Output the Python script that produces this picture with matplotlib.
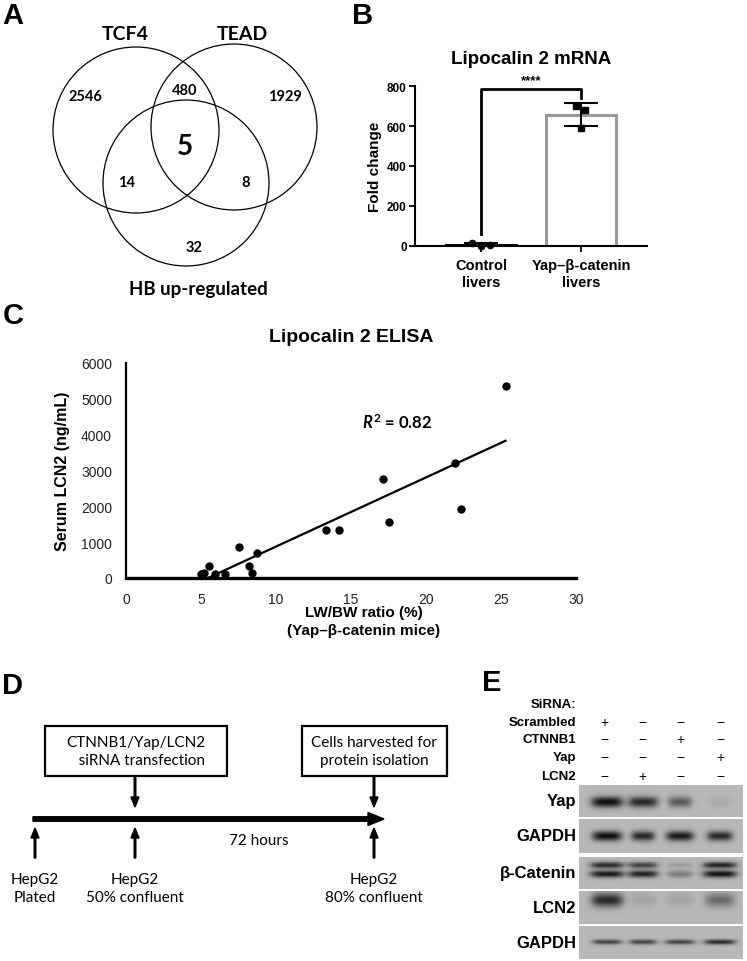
import numpy as np
import matplotlib
matplotlib.use('Agg')
import matplotlib.pyplot as plt
from matplotlib.patches import Circle, Rectangle

# ---- data ----
# A: Venn counts
venn_sets = ['TCF4', 'TEAD', 'HB up-regulated']
venn_counts = [2546, 480, 1929, 5, 14, 8, 32]  # TCF4 only, TCF4&TEAD, TEAD only, all, TCF4&HB, TEAD&HB, HB only

# B: Lipocalin 2 mRNA fold change
b_groups = ['Control\nlivers', 'Yap–β-catenin\nlivers']
control_fc = [14, 1, 2]
yap_fc = [703, 681, 591]

# C: Lipocalin 2 ELISA
lw_bw = [5.0, 5.2, 5.55, 5.9, 6.6, 7.5, 8.2, 8.4, 8.7, 13.3, 14.2, 17.1, 17.5, 21.9, 22.3, 25.3]
serum_lcn2 = [110, 150, 340, 110, 110, 860, 340, 130, 700, 1350, 1350, 2750, 1550, 3200, 1920, 5370]

# E: western blot
sirna = ['Scrambled', 'CTNNB1', 'Yap', 'LCN2']
sign_scrambled = ['+', '−', '−', '−']
sign_ctnnb1 = ['−', '−', '+', '−']
sign_yap = ['−', '−', '−', '+']
sign_lcn2 = ['−', '+', '−', '−']
blot_rows = ['Yap', 'GAPDH', 'β-Catenin', 'LCN2', 'GAPDH']
yap_band = [1.0, 0.85, 0.55, 0.08]
gapdh1_band = [1.0, 0.85, 0.95, 0.85]
bcat_upper = [0.85, 0.7, 0.15, 0.9]
bcat_lower = [0.95, 0.9, 0.35, 1.0]
lcn2_band = [0.85, 0.12, 0.12, 0.45]
gapdh2_band = [0.7, 0.7, 0.7, 0.85]

ARIAL = ['Liberation Sans', 'DejaVu Sans']
CALIBRI = ['Lato', 'DejaVu Sans']

plt.rcParams['mathtext.fontset'] = 'custom'
plt.rcParams['mathtext.it'] = 'Lato:italic:bold'
plt.rcParams['mathtext.rm'] = 'Lato:bold'
plt.rcParams['mathtext.bf'] = 'Lato:bold'

W, H = 747, 962
fig = plt.figure(figsize=(W / 100, H / 100), dpi=100)


def px_axes(left, top, right, bottom):
    return fig.add_axes([left / W, 1 - bottom / H, (right - left) / W, (bottom - top) / H])


ov = fig.add_axes([0, 0, 1, 1])
ov.axis('off')

# panel letters
for letter, (lx, ly) in zip('ABCDE', [(13, 16), (363, 16), (13, 316), (13, 686), (492, 683)]):
    ov.text(lx, ly, letter, fontsize=21, fontweight='bold', family=ARIAL, ha='center', va='center')

# ---- A: Venn ----
for cx, cy in [(136, 131), (234, 128), (186, 184)]:
    ov.add_patch(Circle((cx, cy), 83, fill=False, lw=0.9, ec='black'))
ov.text(125, 35, venn_sets[0], fontsize=14, fontweight='bold', family=CALIBRI, ha='center', va='center')
ov.text(242, 35, venn_sets[1], fontsize=14, fontweight='bold', family=CALIBRI, ha='center', va='center')
ov.text(198, 290, venn_sets[2], fontsize=13.5, fontweight='bold', family=CALIBRI, ha='center', va='center')
venn_pos = [(85, 97), (185, 91), (285, 97), (185, 147), (127, 183), (246, 183), (194, 248)]
for n, (tx, ty) in zip(venn_counts, venn_pos):
    ov.text(tx, ty, str(n), fontsize=20 if n == 5 else 10.5, fontweight='bold', family=CALIBRI,
            ha='center', va='center')

# ---- B: bar chart ----
axb = px_axes(415, 87.3, 647, 246.7)
axb.patch.set_visible(False)
xb = np.arange(len(b_groups))
means = [np.mean(control_fc), np.mean(yap_fc)]
sds = [np.std(control_fc, ddof=1), np.std(yap_fc, ddof=1)]
axb.bar(xb, means, width=0.7, color='white', edgecolor=['black', '#9a9a9a'], linewidth=2.2, zorder=2)
axb.errorbar(xb, means, yerr=sds, fmt='none', ecolor='black', elinewidth=1.5, capsize=12, capthick=1.5, zorder=3)
axb.plot(xb[0] + np.array([-0.093, 0, 0.09]), control_fc, 'o', color='black', ms=4.5, clip_on=False, zorder=4)
axb.plot(xb[1] + np.array([-0.05, 0.043, 0]), yap_fc, 's', color='black', ms=4.5, clip_on=False, zorder=4)
axb.plot([0, 0, 1, 1], [60, 786, 786, 740], color='black', lw=2, clip_on=False)
axb.text(0.5, 800, '****', ha='center', va='bottom', fontsize=9.5, fontweight='bold', family=ARIAL)
axb.set_xlim(-0.66, 1.66)
axb.set_ylim(0, 800)
axb.set_yticks([0, 200, 400, 600, 800])
axb.set_xticks(xb)
axb.set_xticklabels(b_groups, fontsize=10.5, fontweight='bold', family=ARIAL, linespacing=1.25)
for lab in axb.get_yticklabels():
    lab.set_fontsize(8.5)
    lab.set_fontweight('bold')
    lab.set_family(ARIAL)
axb.tick_params(axis='y', length=4.5, width=1.3, pad=1.5)
axb.tick_params(axis='x', length=4, width=1.3, pad=5)
for s in ['top', 'right']:
    axb.spines[s].set_visible(False)
for s in ['left', 'bottom']:
    axb.spines[s].set_linewidth(1.5)
axb.set_title('Lipocalin 2 mRNA', fontsize=13.5, fontweight='bold', family=ARIAL, pad=17)
axb.set_ylabel('Fold change', fontsize=11, fontweight='bold', family=ARIAL, va='center')
axb.yaxis.set_label_coords(-0.172, 0.5)

# ---- C: scatter + trend ----
axc = px_axes(126, 364, 576, 579)
axc.patch.set_visible(False)
xs = np.array(lw_bw)
ys = np.array(serum_lcn2)
slope, icpt = np.polyfit(xs, ys, 1)
xl = np.array([xs.min(), xs.max()])
axc.plot(xl, slope * xl + icpt, color='black', lw=1.6)
axc.plot(xs, ys, 'o', color='black', ms=5, clip_on=False)
axc.text(15.7, 4360, r'$R^{2}$ = 0.82', fontsize=12, fontweight='bold', family=CALIBRI,
         ha='left', va='center')
axc.set_xlim(0, 30)
axc.set_ylim(0, 6000)
axc.set_xticks(range(0, 31, 5))
axc.set_yticks(range(0, 6001, 1000))
axc.tick_params(length=0, labelsize=10, labelcolor='#222222')
axc.tick_params(axis='x', pad=10)
axc.tick_params(axis='y', pad=10)
for lab in axc.get_xticklabels() + axc.get_yticklabels():
    lab.set_family(ARIAL)
for s in ['top', 'right']:
    axc.spines[s].set_visible(False)
axc.spines['left'].set_linewidth(1.6)
axc.spines['bottom'].set_linewidth(2.4)
axc.set_title('Lipocalin 2 ELISA', fontsize=14, fontweight='bold', family=ARIAL, pad=16)
axc.set_ylabel('Serum LCN2 (ng/mL)', fontsize=11.5, fontweight='bold', family=ARIAL, va='center')
axc.yaxis.set_label_coords(-0.14, 0.5)
axc.set_xlabel('LW/BW ratio (%)\n(Yap–β-catenin mice)', fontsize=11, fontweight='bold', family=ARIAL,
               va='center', linespacing=1.3)
axc.xaxis.set_label_coords(0.529, -0.2)

# ---- D: timeline ----
ov.add_patch(Rectangle((45, 727), 182, 50, fill=False, lw=1.6, ec='black'))
ov.add_patch(Rectangle((302, 727), 145, 50, fill=False, lw=1.6, ec='black'))
ov.text(136, 752, 'CTNNB1/Yap/LCN2\n   siRNA transfection', fontsize=11, family=CALIBRI, ha='center',
        va='center', linespacing=1.3)
ov.text(374, 752, 'Cells harvested for\nprotein isolation', fontsize=11, family=CALIBRI, ha='center',
        va='center', linespacing=1.3)
ov.arrow(33, 820, 351, 0, width=4.5, head_width=13, head_length=16, length_includes_head=True,
         color='black')
for ax_x in [135, 374]:
    ov.arrow(ax_x, 777, 0, 31, width=1.6, head_width=8, head_length=10, length_includes_head=True,
             color='black')
for ax_x in [35, 135, 374]:
    ov.arrow(ax_x, 859, 0, -30, width=1.6, head_width=8, head_length=10, length_includes_head=True,
             color='black')
ov.text(259, 841, '72 hours', fontsize=11, family=CALIBRI, ha='center', va='center')
for tx, lbl in [(35, 'HepG2\nPlated'), (135, 'HepG2\n50% confluent'), (374, 'HepG2\n80% confluent')]:
    ov.text(tx, 889, lbl, fontsize=11, family=CALIBRI, ha='center', va='center', linespacing=1.3)

# ---- E: western blot ----
lane_x = [604, 642, 680, 720]
ov.text(576, 705, 'SiRNA:', fontsize=9.5, fontweight='bold', family=ARIAL, ha='right', va='center')
for (name, signs), ty in zip(zip(sirna, [sign_scrambled, sign_ctnnb1, sign_yap, sign_lcn2]), [723, 740, 758, 777]):
    ov.text(576, ty, name, fontsize=9.5, fontweight='bold', family=ARIAL, ha='right', va='center')
    for lx, sg in zip(lane_x, signs):
        ov.text(lx, ty, sg, fontsize=10, family=ARIAL, ha='center', va='center')

band_x = [607, 643, 680, 720]
blot_spans = [(786, 818), (820, 854), (858, 890), (892, 925), (927, 960)]
# (band centre y, half height, half widths, intensities)
blot_bands = [
    [(803, 5.5, [16, 15, 12, 11], yap_band)],
    [(837, 5.0, [15, 12, 14, 13], gapdh1_band)],
    [(866, 3.2, [17, 15, 13, 17], bcat_upper), (875, 3.6, [17, 15, 13, 17], bcat_lower)],
    [(901, 7.0, [16, 14, 14, 15], lcn2_band)],
    [(943, 2.5, [15, 14, 15, 16], gapdh2_band)],
]
bx0, bx1 = 579, 743
for name, (y0, y1), bands in zip(blot_rows, blot_spans, blot_bands):
    gx = np.linspace(bx0, bx1, (bx1 - bx0) * 2)
    gy = np.linspace(y0, y1, (y1 - y0) * 2)
    XX, YY = np.meshgrid(gx, gy)
    dark = np.zeros_like(XX)
    for cy, hh, hws, inten in bands:
        for cx, hw, a in zip(band_x, hws, inten):
            dark += a * np.exp(-np.abs((XX - cx) / hw) ** 4) * np.exp(-((YY - cy) / hh) ** 2)
    img = 0.72 * (1 - 0.92 * np.clip(dark, 0, 1))
    ov.imshow(img, cmap='gray', vmin=0, vmax=1, extent=(bx0, bx1, y1, y0), aspect='auto',
              interpolation='bilinear')
    ov.text(576, (y0 + y1) / 2, name, fontsize=12, fontweight='bold', family=ARIAL, ha='right', va='center')

ov.set_xlim(0, W)
ov.set_ylim(H, 0)

fig.savefig('out.png', dpi=100)
